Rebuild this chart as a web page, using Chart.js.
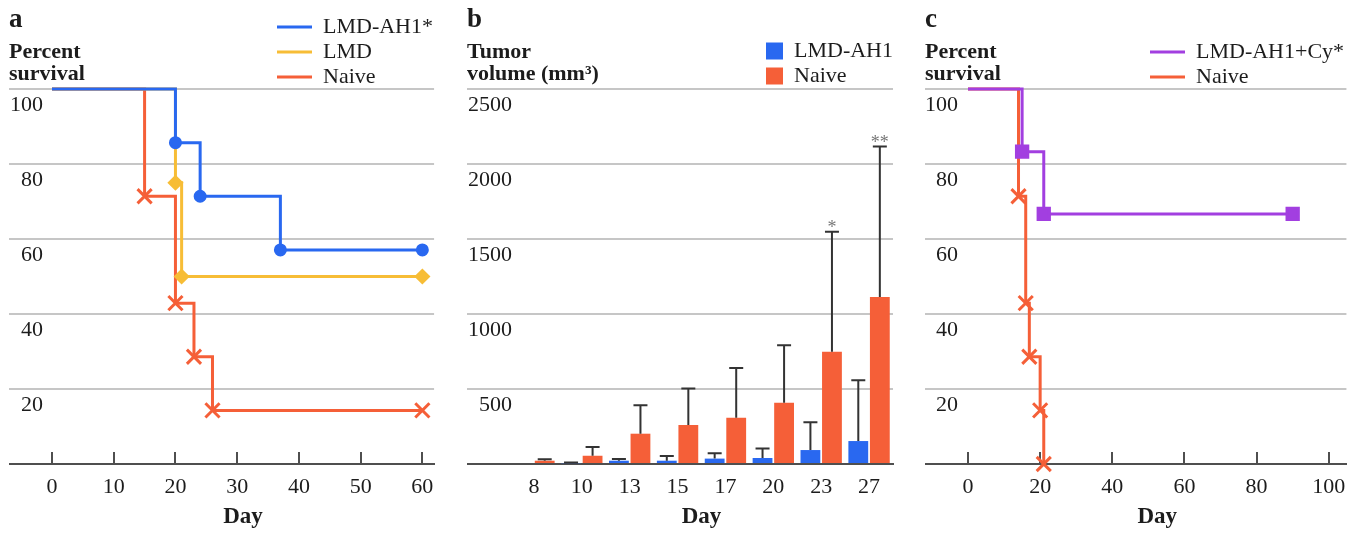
<!DOCTYPE html>
<html>
<head>
<meta charset="utf-8">
<title>LMD-AH1 survival and tumor volume</title>
<script src="https://cdn.jsdelivr.net/npm/chart.js@4.4.1/dist/chart.umd.min.js"></script>
<style>
  body { margin: 0; background: #fff; }
  .panels { position: relative; width: 1368px; height: 533px; }
  .panels canvas { position: absolute; top: 0; }
</style>
</head>
<body>
<div class="panels">
  <canvas id="chartA" width="456" height="533" style="left:0"></canvas>
  <canvas id="chartB" width="456" height="533" style="left:456px"></canvas>
  <canvas id="chartC" width="456" height="533" style="left:912px"></canvas>
</div>
<script>
/** panel a : percent survival **/
var ah1Days = [0, 20, 24, 37, 60];
var ah1Surv = [100, 85.7, 71.4, 57.1, 57.1];
var lmdDays = [0, 20, 21, 60];
var lmdSurv = [100, 75, 50, 50];
var naiveDaysA = [0, 15, 20, 23, 26, 60];
var naiveSurvA = [100, 71.4, 42.9, 28.6, 14.3, 14.3];
var dayTicksA = [0, 10, 20, 30, 40, 50, 60];

/** panel b : tumor volume **/
var tumorDays = ['8', '10', '13', '15', '17', '20', '23', '27'];
var ah1Vol = [0, 5, 22, 22, 36, 40, 93, 153];
var ah1Err = [0, 5, 11, 31, 35, 64, 185, 405];
var naiveVol = [22, 55, 202, 260, 309, 409, 749, 1113];
var naiveErr = [10, 58, 189, 244, 331, 382, 800, 1003];
var signif = ['', '', '', '', '', '', '*', '**'];
var volTicks = [0, 500, 1000, 1500, 2000, 2500];

/** panel c : percent survival with Cy **/
var cyDays = [0, 15, 21, 90];
var cySurv = [100, 83.3, 66.7, 66.7];
var naiveDaysC = [0, 14, 16, 17, 20, 21];
var naiveSurvC = [100, 71.4, 42.9, 28.6, 14.3, 0];
var dayTicksC = [0, 20, 40, 60, 80, 100];
var survTicks = [0, 20, 40, 60, 80, 100];

var SERIF = '"Liberation Serif", "Times New Roman", serif';
var TEXT = '#1c1c1c';
var GRID = '#c6c6c6';
var AXIS = '#4f4f4f';
var BLUE = '#2968f0';
var ORANGE = '#f55f38';
var YELLOW = '#f7bd36';
var PURPLE = '#a23fe0';

Chart.defaults.font.family = SERIF;
Chart.defaults.color = TEXT;

function points(xs, ys) {
    return xs.map(function(x, i) { return {x: x, y: ys[i]}; });
}

function survLine(label, days, surv, color, style, radius) {
    return {
        label: label,
        data: points(days, surv),
        borderColor: color,
        backgroundColor: color,
        borderWidth: 3,
        stepped: true,
        clip: false,
        pointStyle: style,
        pointRadius: function(c) { return c.dataIndex === 0 ? 0 : radius; },
        pointBorderWidth: 3,
        pointBackgroundColor: color,
        pointBorderColor: color
    };
}

// labels sit under their grid line, inside the extended tick marks
function yAxis(max, ticks, pad) {
    return {
        min: 0,
        max: max,
        afterBuildTicks: function(s) { s.ticks = ticks.map(function(v) { return {value: v}; }); },
        afterFit: function(s) { s.width = 43; },
        border: {display: false},
        grid: {
            color: function(c) { return c.tick && c.tick.value === 0 ? AXIS : GRID; },
            lineWidth: 2,
            drawTicks: true,
            tickLength: 43
        },
        ticks: {
            mirror: true,
            crossAlign: 'far',
            padding: pad,
            labelOffset: 16,
            color: TEXT,
            font: {size: 22},
            callback: function(v) { return v === 0 ? '' : v; }
        }
    };
}

function dayTitle() {
    return {display: true, text: 'Day', color: TEXT, font: {size: 23, weight: 'bold'}, padding: {top: 0, bottom: 2}};
}

function xLinear(max, ticks) {
    return {
        type: 'linear',
        min: 0,
        max: max,
        afterBuildTicks: function(s) { s.ticks = ticks.map(function(v) { return {value: v}; }); },
        afterFit: function(s) { s.height = 69; },
        border: {display: true, color: AXIS, width: 2},
        grid: {drawOnChartArea: false, drawTicks: true, tickLength: -12, color: AXIS, lineWidth: 2},
        ticks: {padding: 22, maxRotation: 0, autoSkip: false, color: TEXT, font: {size: 22}},
        title: dayTitle()
    };
}

function legendOpts(lineStyle, x, y) {
    var labels = {color: TEXT, font: {size: 22}, padding: 3};
    if (lineStyle) {
        labels.usePointStyle = true;
        labels.pointStyle = 'line';
        labels.pointStyleWidth = 35;
    } else {
        labels.boxWidth = 17;
        labels.boxHeight = 17;
    }
    return {position: 'chartArea', align: 'start', labels: labels, x: x, y: y};
}

// move the built-in legend above the plot, where the figure has it
var placeLegend = {
    id: 'placeLegend',
    afterLayout: function(chart) {
        var lg = chart.legend;
        var o = chart.options.plugins.legend;
        lg.left = o.x;
        lg.top = o.y;
        lg.right = o.x + lg.width;
        lg.bottom = o.y + lg.height;
    }
};

// panel letter and the horizontal y axis heading
var panelHeader = {
    id: 'panelHeader',
    afterDraw: function(chart, args, opts) {
        var ctx = chart.ctx;
        ctx.save();
        ctx.fillStyle = TEXT;
        ctx.textAlign = 'left';
        ctx.textBaseline = 'alphabetic';
        ctx.font = 'bold 27px ' + SERIF;
        ctx.fillText(opts.letter, opts.x, 27);
        ctx.font = 'bold 22px ' + SERIF;
        opts.lines.forEach(function(t, i) { ctx.fillText(t, opts.x, 58 + 22 * i); });
        ctx.restore();
    }
};

// one-sided error bars plus significance stars
var errorBars = {
    id: 'errorBars',
    afterDatasetsDraw: function(chart) {
        var ctx = chart.ctx;
        var y = chart.scales.y;
        ctx.save();
        chart.data.datasets.forEach(function(ds, di) {
            var meta = chart.getDatasetMeta(di);
            meta.data.forEach(function(bar, i) {
                if (!ds.errors[i]) return;
                var top = y.getPixelForValue(ds.data[i] + ds.errors[i]);
                ctx.strokeStyle = '#333';
                ctx.lineWidth = 2;
                ctx.beginPath();
                ctx.moveTo(bar.x, bar.y);
                ctx.lineTo(bar.x, top);
                ctx.moveTo(bar.x - 7, top);
                ctx.lineTo(bar.x + 7, top);
                ctx.stroke();
                if (ds.marks && ds.marks[i]) {
                    ctx.fillStyle = '#777';
                    ctx.font = '18px ' + SERIF;
                    ctx.textAlign = 'center';
                    ctx.textBaseline = 'alphabetic';
                    ctx.fillText(ds.marks[i], bar.x, top + 1);
                }
            });
        });
        ctx.restore();
    }
};

var common = {
    responsive: false,
    animation: false,
    devicePixelRatio: 1,
    events: []
};

new Chart(document.getElementById('chartA'), {
    type: 'line',
    data: {
        datasets: [
            survLine('LMD-AH1*', ah1Days, ah1Surv, BLUE, 'circle', 5),
            survLine('LMD', lmdDays, lmdSurv, YELLOW, 'rectRot', 6),
            survLine('Naive', naiveDaysA, naiveSurvA, ORANGE, 'crossRot', 10)
        ]
    },
    options: Object.assign({}, common, {
        layout: {padding: {left: 9, right: 21, top: 89, bottom: 0}},
        scales: {
            x: xLinear(61.9, dayTicksA),
            y: yAxis(100, survTicks, -42)
        },
        plugins: {
            legend: legendOpts(true, 274, 13),
            tooltip: {enabled: false},
            panelHeader: {letter: 'a', lines: ['Percent', 'survival'], x: 9}
        }
    }),
    plugins: [placeLegend, panelHeader]
});

new Chart(document.getElementById('chartB'), {
    type: 'bar',
    data: {
        labels: tumorDays,
        datasets: [
            {label: 'LMD-AH1', data: ah1Vol, errors: ah1Err, backgroundColor: BLUE, borderWidth: 0,
             categoryPercentage: 0.9, barPercentage: 0.92},
            {label: 'Naive', data: naiveVol, errors: naiveErr, marks: signif, backgroundColor: ORANGE, borderWidth: 0,
             categoryPercentage: 0.9, barPercentage: 0.92}
        ]
    },
    options: Object.assign({}, common, {
        layout: {padding: {left: 11, right: 19, top: 89, bottom: 0}},
        scales: {
            x: {
                type: 'category',
                offset: true,
                afterFit: function(s) { s.height = 69; },
                border: {display: true, color: AXIS, width: 2},
                grid: {display: false, drawTicks: false},
                ticks: {padding: 10, maxRotation: 0, autoSkip: false, color: TEXT, font: {size: 22}},
                title: dayTitle()
            },
            y: yAxis(2500, volTicks, -42)
        },
        plugins: {
            legend: legendOpts(false, 307, 37),
            tooltip: {enabled: false},
            panelHeader: {letter: 'b', lines: ['Tumor', 'volume (mm\u00b3)'], x: 11}
        }
    }),
    plugins: [placeLegend, panelHeader, errorBars]
});

new Chart(document.getElementById('chartC'), {
    type: 'line',
    data: {
        datasets: [
            survLine('LMD-AH1+Cy*', cyDays, cySurv, PURPLE, 'rect', 8),
            survLine('Naive', naiveDaysC, naiveSurvC, ORANGE, 'crossRot', 10)
        ]
    },
    options: Object.assign({}, common, {
        layout: {padding: {left: 13, right: 16, top: 89, bottom: 0}},
        scales: {
            x: xLinear(104.9, dayTicksC),
            y: yAxis(100, survTicks, -43)
        },
        plugins: {
            legend: legendOpts(true, 235, 38),
            tooltip: {enabled: false},
            panelHeader: {letter: 'c', lines: ['Percent', 'survival'], x: 13}
        }
    }),
    plugins: [placeLegend, panelHeader]
});
</script>
</body>
</html>
